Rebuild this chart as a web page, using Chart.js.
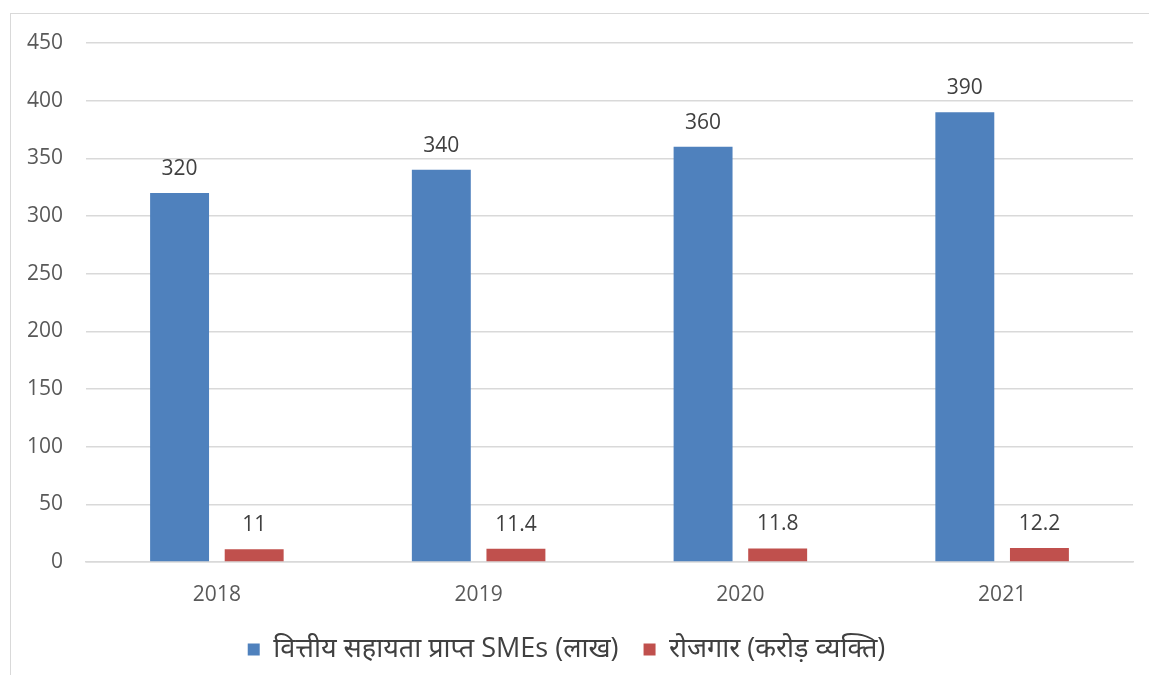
<!DOCTYPE html>
<html>
<head>
<meta charset="utf-8">
<script src="https://cdn.jsdelivr.net/npm/chart.js@4.4.0/dist/chart.umd.min.js"></script>
<style>
  html, body { margin: 0; padding: 0; background: #fff; overflow: hidden; }
  #frame { position: absolute; left: 10px; top: 13px; width: 1300px; height: 800px; border: 1px solid #d9d9d9; }
  #chart { position: absolute; left: 0; top: 0; }
</style>
</head>
<body>
<div id="frame"></div>
<canvas id="chart" width="1149" height="675"></canvas>
<script>
const years = ['2018', '2019', '2020', '2021'];
const smeValues = [320, 340, 360, 390];
const jobValues = [11, 11.4, 11.8, 12.2];
const seriesNames = ['वित्तीय सहायता प्राप्त SMEs (लाख)', 'रोजगार (करोड़ व्यक्ति)'];

const fontFamily = '"Open Sans", "Noto Sans", "Noto Sans Devanagari", sans-serif';

// Data labels above each bar
const barLabels = {
    id: 'barLabels',
    afterDatasetsDraw(chart) {
        const ctx = chart.ctx;
        ctx.save();
        ctx.fillStyle = '#404040';
        ctx.font = '21px ' + fontFamily;
        ctx.textAlign = 'center';
        ctx.textBaseline = 'alphabetic';
        chart.data.datasets.forEach((ds, i) => {
            chart.getDatasetMeta(i).data.forEach((bar, j) => {
                ctx.fillText(String(ds.data[j]), bar.x, bar.y - 18);
            });
        });
        ctx.restore();
    }
};

new Chart(document.getElementById('chart').getContext('2d'), {
    type: 'bar',
    data: {
        labels: years,
        datasets: [{
            label: seriesNames[0],
            data: smeValues,
            backgroundColor: '#4F81BD'
        }, {
            label: seriesNames[1],
            data: jobValues,
            backgroundColor: '#C0504D'
        }]
    },
    options: {
        responsive: false,
        animation: false,
        categoryPercentage: 0.57,
        barPercentage: 0.79,
        layout: { padding: { left: 0, right: 16, top: 43, bottom: 2 } },
        scales: {
            y: {
                min: 0, max: 450,
                ticks: { stepSize: 50, color: '#595959', font: { size: 21, family: fontFamily }, padding: 23 },
                grid: { color: '#d9d9d9', lineWidth: 1.5, drawTicks: false },
                border: { display: false },
                afterFit(scale) { scale.width = 86; }
            },
            x: {
                ticks: { color: '#595959', font: { size: 21, family: fontFamily }, padding: 20 },
                grid: { display: false, drawTicks: false },
                border: { color: '#d9d9d9', width: 1.5 },
                afterFit(scale) { scale.height = 49; }
            }
        },
        plugins: {
            legend: {
                position: 'bottom',
                labels: {
                    color: '#404040',
                    font: { size: 27, family: fontFamily },
                    boxWidth: 12, boxHeight: 12,
                    padding: 25
                }
            },
            tooltip: { enabled: false }
        }
    },
    plugins: [barLabels]
});
</script>
</body>
</html>
